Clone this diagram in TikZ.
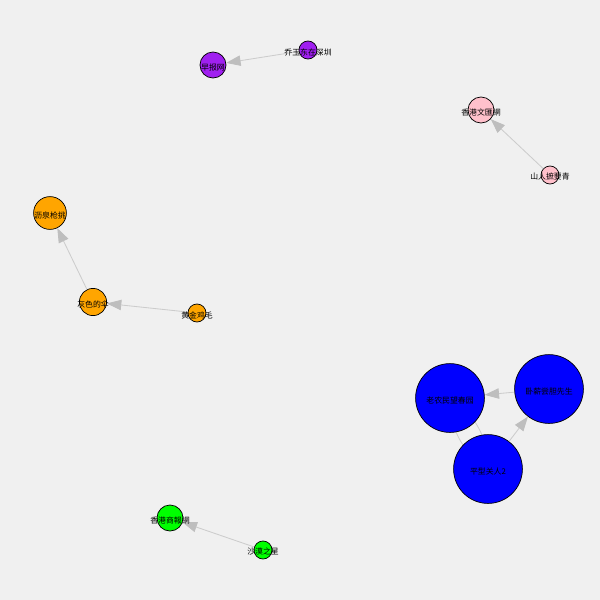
\documentclass[tikz,border=0pt]{standalone}
\usepackage{fontspec}
\usepackage{xcolor}
\newfontfamily\cjk{Noto Sans CJK SC}
\usetikzlibrary{arrows.meta}
\definecolor{bgcol}{HTML}{F0F0F0}
\definecolor{edgecol}{HTML}{CCCCCC}
\definecolor{tipcol}{HTML}{BEBEBE}
\definecolor{purp}{HTML}{A020F0}
\definecolor{pinkc}{HTML}{FFC0CB}
\definecolor{orng}{HTML}{FFA500}
\tikzset{
  vert/.style={circle, draw=black, line width=0.5pt, inner sep=0pt, minimum size=#1},
  tag/.style={font=\cjk\fontsize{5.6}{6}\selectfont, text=black},
  link/.style={draw=edgecol, line width=0.6pt, -{Triangle[length=0.36cm, width=0.26cm, fill=tipcol, color=tipcol]}},
  plain/.style={draw=edgecol, line width=0.6pt}
}

\begin{document}
\begin{tikzpicture}[x=0.025cm, y=-0.025cm]
  \fill[bgcol] (0,0) rectangle (600,600);
  \useasboundingbox (0,0) rectangle (600,600);

  % purple
  \node[vert=0.65cm, fill=purp] (zaobao) at (213,65) {};
  \node[vert=0.45cm, fill=purp] (qiao) at (308,50) {};
  % pink
  \node[vert=0.65cm, fill=pinkc] (wenhui) at (481,110) {};
  \node[vert=0.45cm, fill=pinkc] (shanren) at (550,175) {};
  % orange
  \node[vert=0.82cm, fill=orng] (liquan) at (50,213) {};
  \node[vert=0.68cm, fill=orng] (huise) at (93,302) {};
  \node[vert=0.45cm, fill=orng] (huangjin) at (197,313) {};
  % green
  \node[vert=0.65cm, fill=green] (shangbao) at (170,518) {};
  \node[vert=0.45cm, fill=green] (shamo) at (263,550) {};

  % blue pair, curved links under the circles
  \coordinate (c1) at (450,398);
  \coordinate (c3) at (488,469);
  \draw[plain] (c1) to[bend right=28] (c3);
  \draw[plain] (c1) to[bend left=28] (c3);
  \node[vert=1.72cm, fill=blue] (laonong) at (c1) {};
  \node[vert=1.72cm, fill=blue] (woxin) at (549,389) {};
  \node[vert=1.72cm, fill=blue] (pingxing) at (c3) {};

  \draw[link] (qiao) -- (zaobao);
  \draw[link] (shanren) -- (wenhui);
  \draw[link] (huangjin) -- (huise);
  \draw[link] (huise) -- (liquan);
  \draw[link] (woxin) -- (laonong);
  \draw[link] (pingxing) -- (woxin);
  \draw[link] (shamo) -- (shangbao);

  \node[tag] (tzaobao) at (213,68) {早报网};
  \node[tag] (tqiao) at (308,52) {乔玉东在深圳};
  \node[tag] (twenhui) at (481,112) {香港文匯網};
  \node[tag] (tshanren) at (550,177) {山人摭要青};
  \node[tag] (tliquan) at (50,215) {沥泉枪挑};
  \node[tag] (thuise) at (93,304) {灰色的伞};
  \node[tag] (thuangjin) at (197,315) {黄金鸡毛};
  \node[tag] (tlaonong) at (450,401) {老农民望春园};
  \node[tag] (twoxin) at (549,392) {卧薪尝胆先生};
  \node[tag] (tpingxing) at (488,472) {平型关人2};
  \node[tag] (tshangbao) at (170,520) {香港商報網};
  \node[tag] (tshamo) at (263,552) {沙漠之星};
\end{tikzpicture}
\end{document}
